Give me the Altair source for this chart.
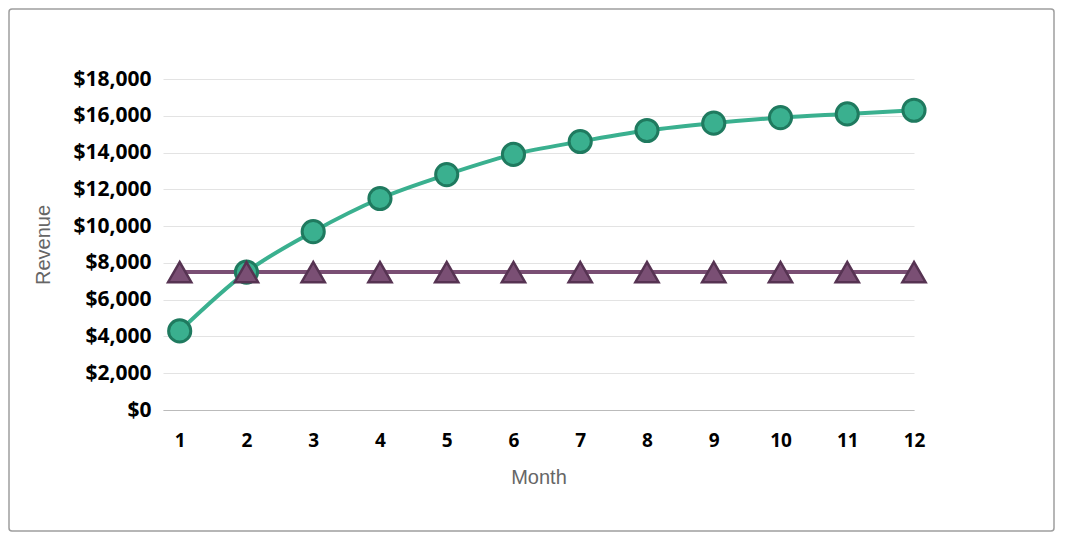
import altair as alt
import pandas as pd

months = list(range(1, 13))
revenue = [4300, 7500, 9700, 11500, 12800, 13900, 14600, 15200, 15600, 15900, 16100, 16300]
baseline = [7500] * 12
y_ticks = list(range(0, 18001, 2000))

df = pd.DataFrame({"Month": months, "Revenue": revenue, "Baseline": baseline})

W, H = 751, 331

xs = alt.Scale(domain=[0.75, 12], nice=False, zero=False)
ys = alt.Scale(domain=[0, 18000], nice=False)

x_axis = alt.Axis(values=months, title="Month", grid=False, ticks=False, format="d",
                  labelFont="Open Sans", labelFontWeight="bold",
                  labelFontSize=19, labelOverlap=False,
                  labelColor="#000", labelPadding=21, domainColor="#bbbbbb",
                  titleFont="Liberation Sans", titleFontWeight="normal", titleFontSize=20,
                  titleColor="#666666", titlePadding=17, labelFlush=False)
y_axis = alt.Axis(values=y_ticks, title="Revenue", format="$,.0f", ticks=False, domain=False,
                  labelFont="Open Sans", labelFontWeight="bold", labelFontSize=21,
                  labelColor="#000", labelPadding=12, gridColor="#e3e3e3", labelOverlap=False,
                  titleFont="Liberation Sans", titleFontWeight="normal", titleFontSize=20,
                  titleColor="#666666", titlePadding=19)

X = alt.X("Month:Q", scale=xs, axis=x_axis)
YR = alt.Y("Revenue:Q", scale=ys, axis=y_axis)
YB = alt.Y("Baseline:Q", scale=ys, axis=y_axis)

base = alt.Chart(df)

green_line = base.mark_line(color="#3AB08F", strokeWidth=4, interpolate="monotone").encode(x=X, y=YR)
green_pts = base.mark_point(filled=True, shape="circle", size=490, fill="#3AB08F",
                            stroke="#1F7A5F", strokeWidth=3, opacity=1).encode(x=X, y=YR)
purple_line = base.mark_line(color="#7A4F74", strokeWidth=4).encode(x=X, y=YB)
purple_pts = base.mark_point(filled=True, shape="triangle-up", size=540, fill="#7A4F74",
                             stroke="#563352", strokeWidth=2.5, opacity=1).encode(x=X, y=YB)

border = alt.Chart(pd.DataFrame({"a": [0]})).mark_rect(
    fill="transparent", stroke="#9e9e9e", strokeWidth=1.5, cornerRadius=3
).encode(
    x=alt.value(-154), x2=alt.value(W + 140),
    y=alt.value(-70), y2=alt.value(H + 121),
)

chart = alt.layer(border, green_line, purple_line, green_pts, purple_pts).properties(
    width=W, height=H, background="white",
    padding={"left": 155, "top": 71, "right": 141, "bottom": 122},
    autosize=alt.AutoSizeParams(type="none"),
).configure_view(strokeWidth=0)

chart.save("out.html", embed_options={"renderer": "svg", "actions": False})
